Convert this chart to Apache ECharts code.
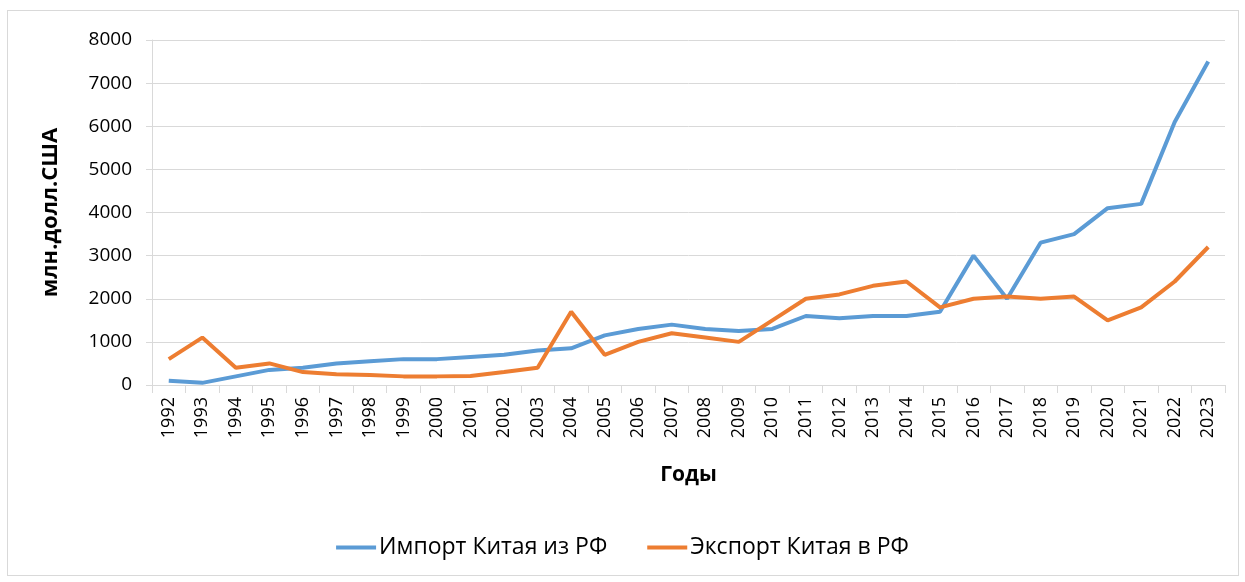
<!DOCTYPE html>
<html>
<head>
<meta charset="utf-8">
<script src="https://cdn.jsdelivr.net/npm/echarts@6/dist/echarts.min.js"></script>
<style>
  html, body { margin: 0; padding: 0; background: #fff; }
  #frame { position: absolute; left: 7px; top: 10px; width: 1232px; height: 566px; border: 1px solid #d9d9d9; box-sizing: border-box; }
  #main { position: absolute; left: 0; top: 0; width: 1245px; height: 582px; }
</style>
</head>
<body>
<div id="frame"></div>
<div id="main"></div>
<script>
// годы
var years = ['1992','1993','1994','1995','1996','1997','1998','1999','2000','2001','2002','2003','2004','2005','2006','2007',
             '2008','2009','2010','2011','2012','2013','2014','2015','2016','2017','2018','2019','2020','2021','2022','2023'];
// Импорт Китая из РФ
var importData = [100, 50, 200, 350, 400, 500, 550, 600, 600, 650, 700, 800, 850, 1150, 1300, 1400,
                  1300, 1250, 1300, 1600, 1550, 1600, 1600, 1700, 3000, 2000, 3300, 3500, 4100, 4200, 6100, 7500];
// Экспорт Китая в РФ
var exportData = [600, 1100, 400, 500, 300, 250, 230, 200, 200, 210, 300, 400, 1700, 700, 1000, 1200,
                  1100, 1000, 1500, 2000, 2100, 2300, 2400, 1800, 2000, 2050, 2000, 2050, 1500, 1800, 2400, 3200];

var myChart = echarts.init(document.getElementById('main'));
var font = '"Open Sans", sans-serif';
var option = {
    animation: false,
    color: ['#5B9BD5', '#ED7D31'],
    grid: { left: 152, right: 20, top: 40, bottom: 197 },
    legend: {
        bottom: 18,
        left: 'center',
        itemWidth: 40,
        itemHeight: 4,
        itemGap: 40,
        icon: 'rect',
        textStyle: { fontFamily: font, fontSize: 23, color: '#000', padding: [0, 0, 0, -2] },
        data: ['Импорт Китая из РФ', 'Экспорт Китая в РФ']
    },
    xAxis: {
        type: 'category',
        data: years,
        boundaryGap: true,
        name: 'Годы',
        nameLocation: 'middle',
        nameGap: 80,
        nameTextStyle: { fontFamily: font, fontSize: 21, fontWeight: 'bold', color: '#000' },
        axisLine: { lineStyle: { color: '#d9d9d9', width: 1 } },
        axisTick: { show: true, length: 8, lineStyle: { color: '#d9d9d9' } },
        axisLabel: { rotate: 90, margin: 12, fontFamily: font, fontSize: 18, color: '#000' }
    },
    yAxis: {
        type: 'value',
        min: 0,
        max: 8000,
        interval: 1000,
        name: 'млн.долл.США',
        nameLocation: 'middle',
        nameGap: 90,
        nameTextStyle: { fontFamily: font, fontSize: 22, fontWeight: 'bold', color: '#000' },
        axisLine: { show: true, lineStyle: { color: '#d9d9d9', width: 1 } },
        axisTick: { show: true, length: 6, lineStyle: { color: '#d9d9d9' } },
        axisLabel: { margin: 20, fontFamily: font, fontSize: 19, color: '#000',
                     formatter: function (v) { return String(v); } },
        splitLine: { lineStyle: { color: '#d9d9d9', width: 1 } }
    },
    series: [
        {
            name: 'Импорт Китая из РФ',
            type: 'line',
            data: importData,
            symbol: 'none',
            lineStyle: { width: 4 }
        },
        {
            name: 'Экспорт Китая в РФ',
            type: 'line',
            data: exportData,
            symbol: 'none',
            lineStyle: { width: 4 }
        }
    ]
};
myChart.setOption(option);
</script>
</body>
</html>
